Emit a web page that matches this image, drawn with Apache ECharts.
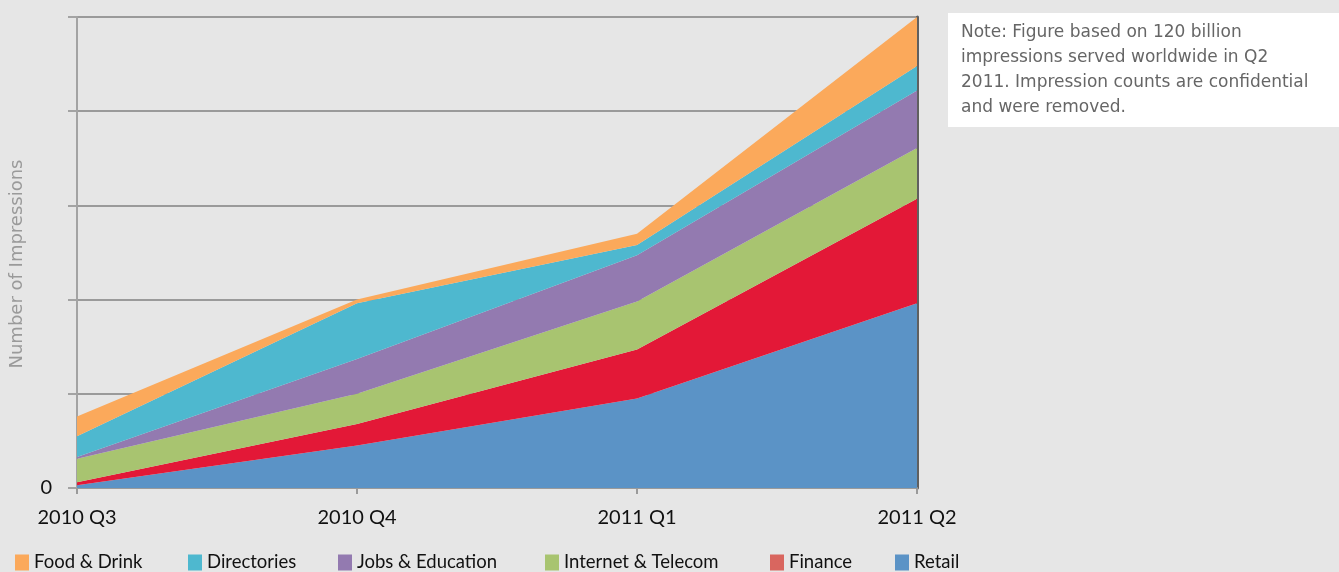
<!DOCTYPE html>
<html>
<head>
<meta charset="utf-8">
<script src="https://cdn.jsdelivr.net/npm/echarts@6/dist/echarts.min.js"></script>
<style>
  html, body { margin: 0; padding: 0; background: #e6e6e6; }
  #chart { width: 1339px; height: 572px; }
</style>
</head>
<body>
<div id="chart"></div>
<script>
// 数据
const categories = ['2010 Q3', '2010 Q4', '2011 Q1', '2011 Q2']
const retail = [0.3, 4.5, 9.5, 19.6]
const finance = [0.3, 2.3, 5.2, 11.1]
const internet = [2.5, 3.2, 5.1, 5.4]
const jobs = [0.2, 3.7, 4.9, 6.1]
const directories = [2.2, 5.9, 1.1, 2.6]
const food = [2.1, 0.4, 1.2, 5.2]
const yTicks = [0, 10, 20, 30, 40, 50]

const noteText = 'Note: Figure based on 120 billion\nimpressions served worldwide in Q2\n2011. Impression counts are confidential\nand were removed.'

const seriesList = [
  { name: 'Retail', data: retail, color: '#5b93c6' },
  { name: 'Finance', data: finance, color: '#e31837', legendColor: '#d9665f' },
  { name: 'Internet & Telecom', data: internet, color: '#a8c470' },
  { name: 'Jobs & Education', data: jobs, color: '#937ab0' },
  { name: 'Directories', data: directories, color: '#4eb8cf' },
  { name: 'Food & Drink', data: food, color: '#fba95b' }
]

// legend positions (left edge of the icon)
const legendItems = [
  { name: 'Food & Drink', left: 10 },
  { name: 'Directories', left: 183 },
  { name: 'Jobs & Education', left: 333 },
  { name: 'Internet & Telecom', left: 540 },
  { name: 'Finance', left: 765 },
  { name: 'Retail', left: 890 }
]

const labelFont = 'Lato, "Open Sans", sans-serif'
const noteFont = '"DejaVu Sans", "Open Sans", sans-serif'

const chart = echarts.init(document.getElementById('chart'))

const option = {
  backgroundColor: '#e6e6e6',
  animation: false,
  grid: { left: 77, right: 422, top: 17, bottom: 84 },
  legend: legendItems.map(item => {
    const s = seriesList.find(x => x.name === item.name)
    return {
      left: item.left,
      top: 548,
      itemWidth: 14,
      itemHeight: 16,
      itemGap: 8,
      icon: 'rect',
      textStyle: { fontSize: 18.5, color: '#111', fontFamily: labelFont },
      data: [{ name: item.name, itemStyle: { color: s.legendColor || s.color } }]
    }
  }),
  xAxis: {
    type: 'category',
    data: categories,
    boundaryGap: false,
    axisLine: { show: true, lineStyle: { color: '#9a9a9a', width: 2 } },
    axisTick: { show: true, length: 6, lineStyle: { color: '#9a9a9a', width: 2 } },
    axisLabel: { fontSize: 20, color: '#111', margin: 20, fontFamily: labelFont }
  },
  yAxis: [{
    type: 'value',
    min: 0,
    max: 50,
    interval: 10,
    axisLine: { show: true, lineStyle: { color: '#a3a3a3', width: 2 } },
    axisTick: { show: true, length: 9, lineStyle: { color: '#a3a3a3', width: 2 } },
    axisLabel: {
      fontSize: 20,
      color: '#111',
      margin: 25,
      fontFamily: labelFont,
      formatter: v => (v === yTicks[0] ? '0' : '')
    },
    splitLine: { show: true, lineStyle: { color: '#9a9a9a', width: 2 } }
  }, {
    type: 'value',
    position: 'right',
    min: 0,
    max: 50,
    axisLine: { show: true, lineStyle: { color: '#606060', width: 3 } },
    axisTick: { show: false },
    axisLabel: { show: false },
    splitLine: { show: false }
  }],
  series: seriesList.map(s => ({
    name: s.name,
    type: 'line',
    stack: 'total',
    data: s.data,
    symbol: 'none',
    color: s.color,
    lineStyle: { width: 0 },
    areaStyle: { color: s.color, opacity: 1 },
    z: 1
  })),
  graphic: [{
    type: 'rect',
    left: 948,
    top: 13,
    shape: { width: 391, height: 114 },
    style: { fill: '#ffffff' }
  }, {
    type: 'text',
    left: 961,
    top: 20,
    style: {
      text: noteText,
      fontSize: 17,
      lineHeight: 25,
      fill: '#666666',
      fontFamily: noteFont
    }
  }, {
    type: 'text',
    x: 17,
    y: 264,
    rotation: Math.PI / 2,
    style: {
      text: 'Number of Impressions',
      fontSize: 18,
      fill: '#9a9a9a',
      fontFamily: noteFont,
      align: 'center',
      verticalAlign: 'middle'
    }
  }]
}

chart.setOption(option)
</script>
</body>
</html>
